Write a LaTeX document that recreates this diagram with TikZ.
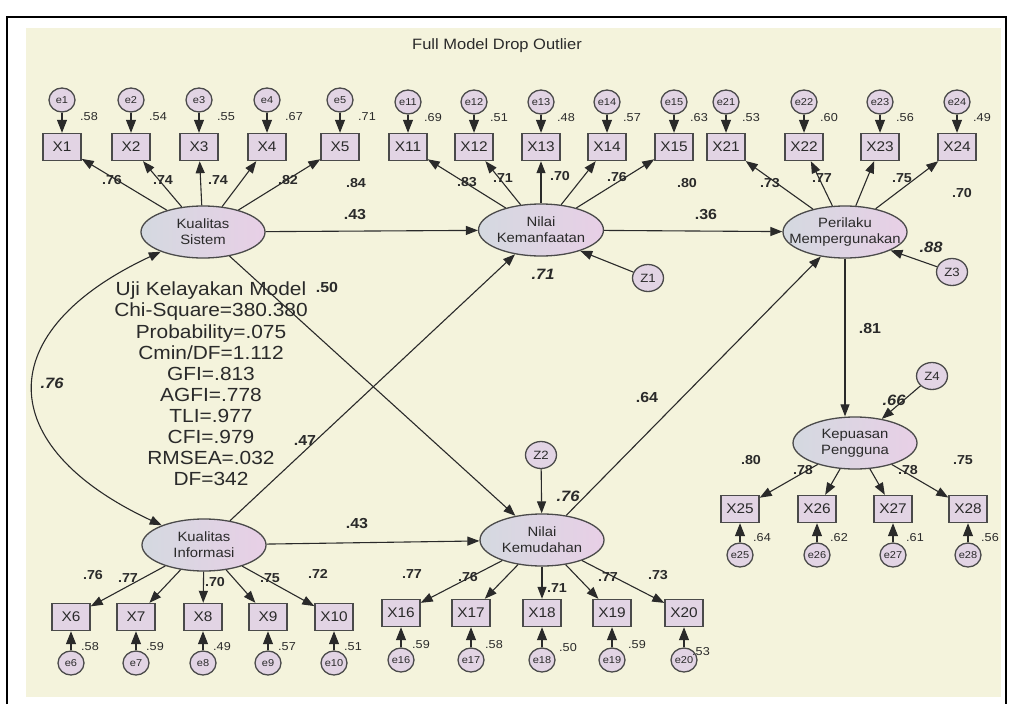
\documentclass[tikz,border=0pt]{standalone}
\usepackage{fontspec}
\setmainfont{Liberation Sans}[FakeStretch=1.1]
\usetikzlibrary{shapes.geometric, arrows.meta}

\definecolor{panel}{HTML}{F4F3DC}
\definecolor{boxfill}{HTML}{E2D4E4}
\definecolor{latleft}{HTML}{D4D9E0}
\definecolor{latright}{HTML}{E8CFE6}
\definecolor{ink}{HTML}{2A2A2A}
\definecolor{edge}{HTML}{4A4A4A}

\begin{document}
\begin{tikzpicture}[x=1pt, y=1pt,
  manifest/.style={draw=edge, line width=1.4pt, fill=boxfill, minimum width=38pt, minimum height=27pt, inner sep=0pt, text=ink, font=\fontsize{14}{14}\selectfont},
  latent/.style={ellipse, draw=edge, line width=1.3pt, left color=latleft, right color=latright, minimum width=124pt, minimum height=52pt, inner sep=0pt, align=center, text=ink, font=\fontsize{13.5}{16}\selectfont},
  errnode/.style={ellipse, draw=edge, line width=1.3pt, fill=boxfill, minimum width=26pt, minimum height=24pt, inner sep=0pt, text=ink, font=\fontsize{10}{10}\selectfont},
  distnode/.style={ellipse, draw=edge, line width=1.3pt, fill=boxfill, minimum width=31pt, minimum height=27pt, inner sep=0pt, text=ink, font=\fontsize{12}{12}\selectfont},
  path/.style={-{Triangle[length=12pt,width=9pt]}, line width=1.1pt, draw=ink},
  errpath/.style={-{Triangle[length=13pt,width=10pt]}, line width=1.1pt, draw=ink},
  covpath/.style={{Triangle[length=12pt,width=9pt]}-{Triangle[length=12pt,width=9pt]}, line width=1.1pt, draw=ink},
  evlab/.style={text=ink, font=\fontsize{11.5}{12}\selectfont, inner sep=0pt},
  ldlab/.style={text=ink, font=\bfseries\fontsize{13}{13}\selectfont, inner sep=0pt},
  pathlab/.style={text=ink, font=\bfseries\fontsize{14.5}{15}\selectfont, inner sep=0pt},
  rlab/.style={text=ink, font=\bfseries\itshape\fontsize{15}{15}\selectfont, inner sep=0pt}
]

\useasboundingbox (0,0) rectangle (1009,-704);

% Frame and panel
\fill[panel] (26,-28) rectangle (1001,-697);
\draw[line width=1.6pt] (7,-704) -- (7,-17) -- (1006,-17) -- (1006,-704);
\node[text=ink, font=\fontsize{15}{15}\selectfont] (title) at (497,-46) {Full Model Drop Outlier};

% Latent variables
\node[latent] (KS) at (203,-232) {Kualitas\\Sistem};
\node[latent] (NKf) at (541,-230) {Nilai\\Kemanfaatan};
\node[latent, inner xsep=-12pt] (PM) at (845,-232) {Perilaku\\Mempergunakan};
\node[latent] (KI) at (204,-545) {Kualitas\\Informasi};
\node[latent] (NKd) at (542,-540) {Nilai\\Kemudahan};
\node[latent] (KP) at (855,-443) {Kepuasan\\Pengguna};

% Disturbances
\node[distnode] (Z1) at (648,-278) {Z1};
\node[distnode] (Z2) at (541,-455) {Z2};
\node[distnode] (Z3) at (952,-272) {Z3};
\node[distnode] (Z4) at (932,-376) {Z4};

% Kualitas Sistem indicators
\foreach \i/\x/\ev/\ld/\lx/\ly in {1/62/.58/.76/112/180, 2/131/.54/.74/163/180, 3/199/.55/.74/218/180, 4/267/.67/.82/288/180, 5/340/.71/.84/356/183} {
  \node[manifest] (X\i) at (\x,-147) {X\i};
  \node[errnode] (e\i) at (\x,-100) {e\i};
  \draw[errpath] (e\i) -- (X\i);
  \draw[path] (KS) -- (X\i);
  \node[evlab] at ({\x+27},-117) {\ev};
  \node[ldlab] at (\lx,-\ly) {\ld};
}

% Nilai Kemanfaatan indicators
\foreach \i/\x/\ev/\ld/\lx/\ly in {11/408/.69/.83/467/182, 12/474/.51/.71/503/178, 13/541/.48/.70/560/176, 14/607/.57/.76/617/177, 15/674/.63/.80/687/183} {
  \node[manifest] (X\i) at (\x,-147) {X\i};
  \node[errnode] (e\i) at (\x,-102) {e\i};
  \draw[errpath] (e\i) -- (X\i);
  \draw[path] (NKf) -- (X\i);
  \node[evlab] at ({\x+25},-118) {\ev};
  \node[ldlab] at (\lx,-\ly) {\ld};
}

% Perilaku Mempergunakan indicators
\foreach \i/\x/\ev/\ld/\lx/\ly in {21/726/.53/.73/770/183, 22/804/.60/.77/822/178, 23/880/.56/.75/902/178, 24/957/.49/.70/962/193} {
  \node[manifest] (X\i) at (\x,-147) {X\i};
  \node[errnode] (e\i) at (\x,-102) {e\i};
  \draw[errpath] (e\i) -- (X\i);
  \draw[path] (PM) -- (X\i);
  \node[evlab] at ({\x+25},-118) {\ev};
  \node[ldlab] at (\lx,-\ly) {\ld};
}

% Kualitas Informasi indicators
\foreach \i/\x/\ev/\ld/\lx/\ly in {6/71/.58/.76/93/575, 7/136/.59/.77/128/578, 8/203/.49/.70/215/582, 9/268/.57/.75/270/578, 10/334/.51/.72/318/574} {
  \node[manifest] (X\i) at (\x,-617) {X\i};
  \node[errnode] (e\i) at (\x,-663) {e\i};
  \draw[errpath] (e\i) -- (X\i);
  \draw[path] (KI) -- (X\i);
  \node[evlab] at ({\x+19},-647) {\ev};
  \node[ldlab] at (\lx,-\ly) {\ld};
}

% Nilai Kemudahan indicators
\foreach \i/\x/\ev/\ex/\ey/\ld/\lx/\ly in {16/401/.59/421/645/.77/412/574, 17/471/.58/494/645/.76/468/577, 18/542/.50/568/648/.71/557/588, 19/612/.59/637/645/.77/608/577, 20/684/.53/701/652/.73/658/575} {
  \node[manifest] (X\i) at (\x,-613) {X\i};
  \node[errnode] (e\i) at (\x,-660) {e\i};
  \draw[errpath] (e\i) -- (X\i);
  \draw[path] (NKd) -- (X\i);
  \node[evlab] at (\ex,-\ey) {\ev};
  \node[ldlab] at (\lx,-\ly) {\ld};
}

% Kepuasan Pengguna indicators
\foreach \i/\x/\ev/\ld/\lx/\ly in {25/740/.64/.80/751/460, 26/817/.62/.78/803/470, 27/893/.61/.78/908/470, 28/968/.56/.75/963/460} {
  \node[manifest] (X\i) at (\x,-509) {X\i};
  \node[errnode] (e\i) at (\x,-555) {e\i};
  \draw[errpath] (e\i) -- (X\i);
  \draw[path] (KP) -- (X\i);
  \node[evlab] at ({\x+22},-538) {\ev};
  \node[ldlab] at (\lx,-\ly) {\ld};
}

% Structural paths
\draw[path] (KS) -- (NKf);
\draw[path] (KS) -- (NKd);
\draw[path] (KI) -- (NKf);
\draw[path] (KI) -- (NKd);
\draw[path] (NKf) -- (PM);
\draw[path] (NKd) -- (PM);
\draw[path] (PM) -- (PM |- KP.north);
\draw[covpath] (KS.205) to[out=205, in=155, looseness=1.75] (KI.155);

% Disturbance paths
\draw[path] (Z1) -- (NKf.-28);
\draw[path] (Z2) -- (NKd);
\draw[path] (Z3) -- (PM.-22);
\draw[path] (Z4) -- (KP.42);

% Path coefficients
\node[pathlab] at (355,-215) {.43};
\node[pathlab] at (706,-215) {.36};
\node[pathlab] at (327,-288) {.50};
\node[pathlab] at (305,-441) {.47};
\node[pathlab] at (647,-398) {.64};
\node[pathlab] at (357,-524) {.43};
\node[pathlab] at (870,-329) {.81};

% Squared multiple correlations
\node[rlab] at (543,-274) {.71};
\node[rlab] at (568,-496) {.76};
\node[rlab] at (931,-247) {.88};
\node[rlab] at (894,-400) {.66};
\node[rlab] at (52,-383) {.76};

% Fit indices
\node[text=ink, align=center, font=\fontsize{19}{21.1}\selectfont] (fit) at (211,-384) {Uji Kelayakan Model\\Chi-Square=380.380\\Probability=.075\\Cmin/DF=1.112\\GFI=.813\\AGFI=.778\\TLI=.977\\CFI=.979\\RMSEA=.032\\DF=342};

\end{tikzpicture}
\end{document}
